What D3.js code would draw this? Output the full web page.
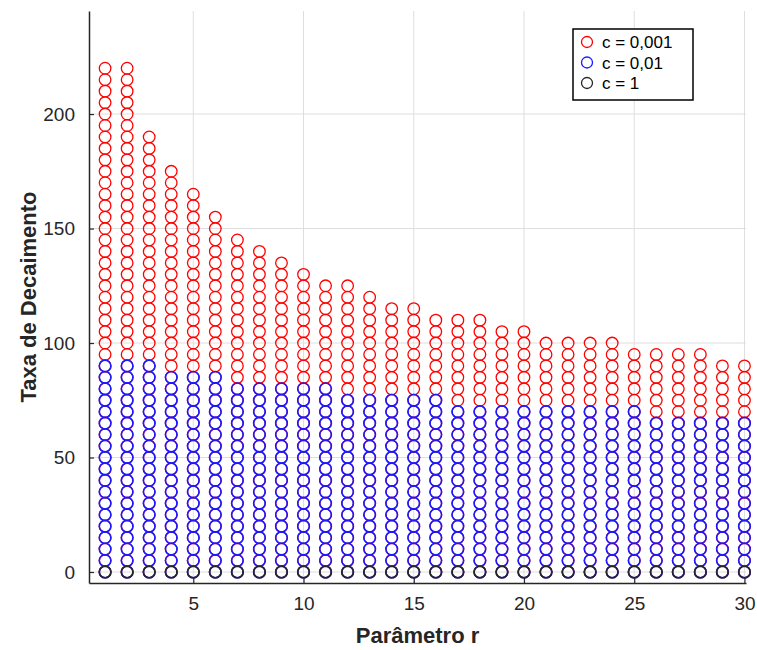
<!DOCTYPE html>
<html>
<head>
<meta charset="utf-8">
<script src="https://cdn.jsdelivr.net/npm/d3@7"></script>
<style>
  html, body { margin: 0; padding: 0; background: #fff; }
  svg { display: block; }
  text { font-family: "Liberation Sans", Arial, Helvetica, sans-serif; }
</style>
</head>
<body>
<svg id="chart" width="757" height="650"></svg>
<script>
// Parameter r (x axis)
const rValues = [1,2,3,4,5,6,7,8,9,10,11,12,13,14,15,16,17,18,19,20,21,22,23,24,25,26,27,28,29,30];
// Largest decay rate reached for each r, per value of c
const topC0001 = [220,220,190,175,165,155,145,140,135,130,125,125,120,115,115,110,110,110,105,105,100,100,100,100,95,95,95,95,90,90];
const topC001  = [90,90,90,85,85,85,80,80,80,80,80,75,75,75,75,75,70,70,70,70,70,70,70,70,70,65,65,65,65,65];
const topC1    = [0,0,0,0,0,0,0,0,0,0,0,0,0,0,0,0,0,0,0,0,0,0,0,0,0,0,0,0,0,0];
// Decay rates are sampled every 5 units from 0 up to the top value
const rateStep = 5;
const seriesNames = ["c = 0,001", "c = 0,01", "c = 1"];
const seriesColors = ["#ff0000", "#1a1aff", "#262626"];
const seriesStroke = [1.3, 1.6, 1.6];
const xTicks = [5,10,15,20,25,30];
const yTicks = [0,50,100,150,200];

const svg = d3.select("#chart");
const plotLeft = 89, plotRight = 746, plotTop = 11, plotBottom = 583;

const x = d3.scaleLinear().domain([0.27, 30.07]).range([plotLeft, plotRight]);
const y = d3.scaleLinear().domain([-4.8, 245]).range([plotBottom, plotTop]);

// grid
const grid = svg.append("g").attr("stroke", "#dedede").attr("stroke-width", 1);
grid.selectAll("line.gx").data(xTicks).join("line").attr("class", "gx")
  .attr("x1", d => x(d)).attr("x2", d => x(d))
  .attr("y1", plotTop).attr("y2", plotBottom);
grid.selectAll("line.gy").data(yTicks).join("line").attr("class", "gy")
  .attr("x1", plotLeft).attr("x2", plotRight)
  .attr("y1", d => y(d)).attr("y2", d => y(d));

// scatter points: each r has a column of rates 0, 5, ..., top
function points(tops) {
  const pts = [];
  rValues.forEach((r, i) => {
    d3.range(0, tops[i] + rateStep / 2, rateStep).forEach(v => pts.push({ r, v }));
  });
  return pts;
}
const seriesTops = [topC0001, topC001, topC1];
seriesTops.forEach((tops, k) => {
  svg.append("g")
    .attr("fill", "none")
    .attr("stroke", seriesColors[k])
    .attr("stroke-width", seriesStroke[k])
    .selectAll("circle").data(points(tops)).join("circle")
    .attr("cx", d => x(d.r))
    .attr("cy", d => y(d.v))
    .attr("r", 5.8);
});

// axes
const axisColor = "#262626";
const xAxis = d3.axisBottom(x).tickValues(xTicks).tickSizeInner(-5).tickSizeOuter(0).tickPadding(14);
const yAxis = d3.axisLeft(y).tickValues(yTicks).tickSizeInner(-5).tickSizeOuter(0).tickPadding(14);

const gx = svg.append("g").attr("transform", `translate(0,${plotBottom})`).call(xAxis);
const gy = svg.append("g").attr("transform", `translate(${plotLeft},0)`).call(yAxis);
[gx, gy].forEach(g => {
  g.select(".domain").attr("stroke", axisColor).attr("stroke-width", 1.5);
  g.selectAll(".tick line").attr("stroke", axisColor).attr("stroke-width", 1.2);
  g.selectAll(".tick text").attr("fill", axisColor).style("font-size", "19px");
});

// axis titles
svg.append("text")
  .attr("x", (plotLeft + plotRight) / 2).attr("y", 643)
  .attr("text-anchor", "middle")
  .attr("fill", axisColor)
  .style("font-size", "22px").style("font-weight", "bold")
  .text("Parâmetro r");
svg.append("text")
  .attr("transform", `translate(36,${(plotTop + plotBottom) / 2}) rotate(-90)`)
  .attr("text-anchor", "middle")
  .attr("fill", axisColor)
  .style("font-size", "22px").style("font-weight", "bold")
  .text("Taxa de Decaimento");

// legend
const lg = svg.append("g").attr("transform", "translate(573,29)");
lg.append("rect").attr("width", 120).attr("height", 71)
  .attr("fill", "#fff").attr("stroke", "#000").attr("stroke-width", 1.5);
seriesNames.forEach((name, i) => {
  const cy = 13 + i * 20.5;
  lg.append("circle").attr("cx", 14).attr("cy", cy).attr("r", 5.5)
    .attr("fill", "none").attr("stroke", seriesColors[i]).attr("stroke-width", 1.3);
  lg.append("text").attr("x", 29).attr("y", cy + 6)
    .attr("fill", "#000").style("font-size", "17px").text(name);
});
</script>
</body>
</html>
